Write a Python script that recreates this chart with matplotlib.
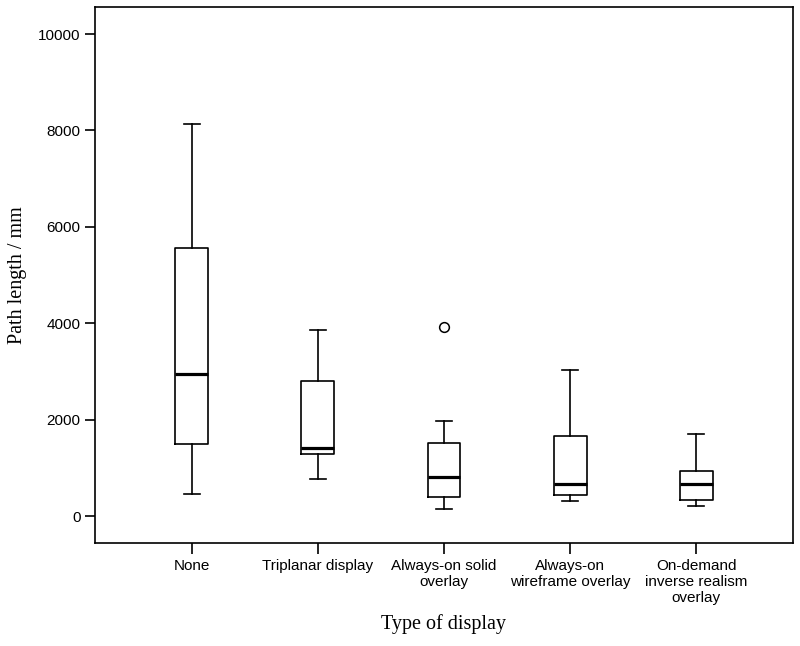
import matplotlib.pyplot as plt

categories = ["None", "Triplanar display", "Always-on solid\noverlay",
              "Always-on\nwireframe overlay", "On-demand\ninverse realism\noverlay"]
whislo = [463, 774, 145, 311, 201]
q1 = [1500, 1286, 401, 428, 332]
med = [2953, 1404, 809, 657, 664]
q3 = [5560, 2808, 1521, 1667, 934]
whishi = [8133, 3860, 1978, 3036, 1694]
fliers = [[], [], [3928], [], []]

stats = []
for i, name in enumerate(categories):
    stats.append(dict(label=name, whislo=whislo[i], q1=q1[i], med=med[i],
                      q3=q3[i], whishi=whishi[i], fliers=fliers[i]))

fig = plt.figure(figsize=(8, 6.46), dpi=100)
ax = fig.add_axes([0.119, 0.1594, 0.872, 0.8296])

ax.bxp(stats, positions=range(1, 6), widths=0.26, capwidths=0.13,
       boxprops=dict(color="black", linewidth=1.2),
       whiskerprops=dict(color="black", linewidth=1.2),
       capprops=dict(color="black", linewidth=1.2),
       medianprops=dict(color="black", linewidth=2.3),
       flierprops=dict(marker="o", markersize=7, markerfacecolor="none",
                       markeredgecolor="black", markeredgewidth=1.1))

ax.set_xlim(0.235, 5.765)
ax.set_ylim(-560, 10560)
ax.set_yticks([0, 2000, 4000, 6000, 8000, 10000])

for s in ax.spines.values():
    s.set_linewidth(1.2)
ax.tick_params(direction="out", length=7, width=1.2, color="black")
ax.tick_params(axis="x", length=8)
for lab in ax.get_xticklabels() + ax.get_yticklabels():
    lab.set_fontfamily("Liberation Sans")
    lab.set_fontsize(11)

ax.set_ylabel("Path length / mm", family="Liberation Serif", fontsize=14.5, labelpad=8)
ax.set_xlabel("Type of display", family="Liberation Serif", fontsize=14.5, labelpad=6)

fig.savefig("out.png")
